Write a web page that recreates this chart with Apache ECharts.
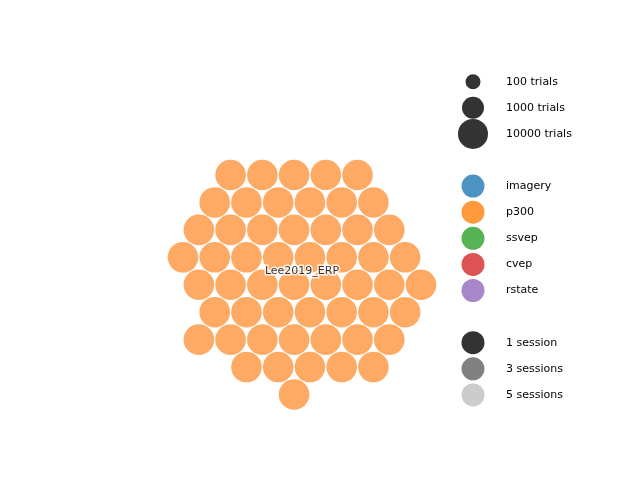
<!DOCTYPE html>
<html>
<head>
<meta charset="utf-8">
<script src="https://cdn.jsdelivr.net/npm/echarts@6/dist/echarts.min.js"></script>
<style>html,body{margin:0;padding:0;background:#fff}#c{width:640px;height:480px}</style>
</head>
<body>
<div id="c"></div>
<script>
// Dataset: Lee2019_ERP, 54 subjects on a hexagonal layout
var datasetName = 'Lee2019_ERP';
var datasetLabelPos = [7.5, 3.5];
// hex cell columns (half-step units) for each row
var hexRows = [
  [3, 5, 7, 9, 11],
  [2, 4, 6, 8, 10, 12],
  [1, 3, 5, 7, 9, 11, 13],
  [0, 2, 4, 6, 8, 10, 12, 14],
  [1, 3, 5, 7, 9, 11, 13, 15],
  [2, 4, 6, 8, 10, 12, 14],
  [1, 3, 5, 7, 9, 11, 13],
  [4, 6, 8, 10, 12],
  [7]
];
// legend entries
var legendLabels = ['100 trials', '1000 trials', '10000 trials',
  'imagery', 'p300', 'ssvep', 'cvep', 'rstate',
  '1 session', '3 sessions', '5 sessions'];
var legendRows = [0, 1, 2, 4, 5, 6, 7, 8, 10, 11, 12];
var legendSizes = [15, 22, 30, 23, 23, 23, 23, 23, 23, 23, 23];
var legendColors = ['#333333', '#333333', '#333333',
  '#4c92c3', '#ff993e', '#56b356', '#de5253', '#a985ca',
  '#333333', '#808080', '#cccccc'];

var cells = [];
hexRows.forEach(function (row, r) {
  row.forEach(function (k) { cells.push([k, r]); });
});
var legendData = legendLabels.map(function (name, i) {
  return {
    name: name,
    value: [0, legendRows[i]],
    symbolSize: legendSizes[i],
    itemStyle: { color: legendColors[i], opacity: 1 }
  };
});

var font = 'DejaVu Sans';
var chart = echarts.init(document.getElementById('c'), null, { renderer: 'canvas' });
chart.setOption({
  animation: false,
  backgroundColor: '#ffffff',
  grid: [
    { left: 183, top: 175, width: 238, height: 219.5 },
    { left: 473, top: 81.7, width: 33, height: 313.2 }
  ],
  xAxis: [
    { gridIndex: 0, type: 'value', min: 0, max: 15, show: false },
    { gridIndex: 1, type: 'value', min: 0, max: 1, show: false }
  ],
  yAxis: [
    { gridIndex: 0, type: 'value', min: 0, max: 8, inverse: true, show: false },
    { gridIndex: 1, type: 'value', min: 0, max: 12, inverse: true, show: false }
  ],
  series: [
    {
      type: 'scatter', xAxisIndex: 0, yAxisIndex: 0,
      data: cells, symbolSize: 30.6,
      itemStyle: { color: '#ffaa64', opacity: 1 },
      silent: true
    },
    {
      type: 'scatter', xAxisIndex: 0, yAxisIndex: 0,
      data: [{ name: datasetName, value: datasetLabelPos }],
      symbolSize: 0, z: 5,
      label: {
        show: true, position: 'inside', formatter: '{b}',
        color: '#000', fontFamily: font, fontSize: 11,
        textBorderColor: '#ffffff', textBorderWidth: 3
      }
    },
    {
      type: 'scatter', xAxisIndex: 1, yAxisIndex: 1,
      data: legendData,
      label: {
        show: true, position: 'inside', align: 'left', verticalAlign: 'middle',
        offset: [33, 0], formatter: '{b}',
        color: '#000', fontFamily: font, fontSize: 11
      }
    }
  ]
});
</script>
</body>
</html>
